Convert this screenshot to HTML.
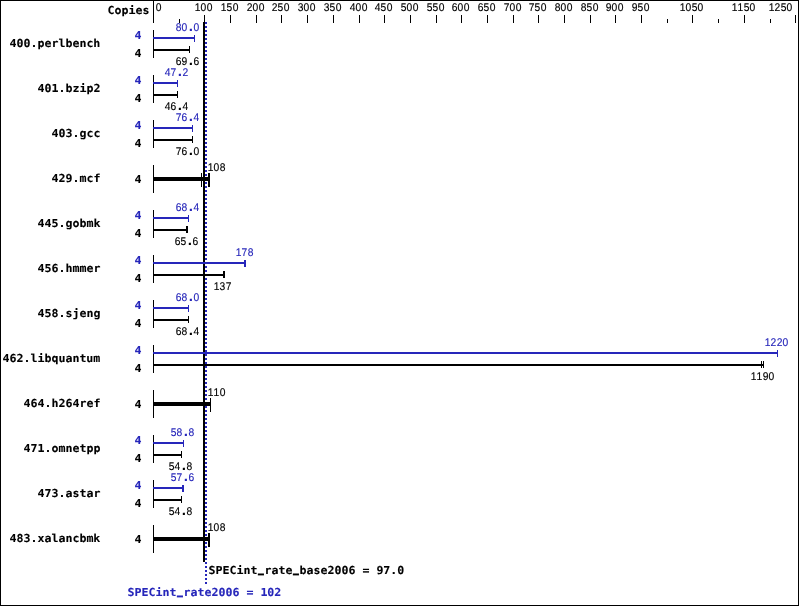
<!DOCTYPE html>
<html><head><meta charset="utf-8"><title>SPECint_rate2006</title>
<style>
html,body{margin:0;padding:0;background:#fff;}
svg{display:block;}
text.s{font-family:"Liberation Sans",sans-serif;font-size:11.2px;text-anchor:middle;stroke-width:0.15px;}
tspan.u{font-size:8px;stroke-width:1.3px;}
tspan.d{font-weight:bold;font-size:15px;}
text.b{font-family:"DejaVu Sans Mono","Liberation Mono",monospace;font-weight:bold;font-size:11.627px;stroke-width:0.1px;}
</style></head><body>
<svg width="799" height="606" viewBox="0 0 799 606" shape-rendering="crispEdges" text-rendering="geometricPrecision">
<rect x="0" y="0" width="799" height="606" fill="#fff"/>
<rect x="0" y="0" width="799" height="1" fill="#000"/>
<rect x="0" y="605" width="799" height="1" fill="#000"/>
<rect x="0" y="0" width="1" height="606" fill="#000"/>
<rect x="798" y="0" width="1" height="606" fill="#000"/>
<rect x="153" y="0" width="1" height="23" fill="#000"/>
<text class="b" transform="translate(107.50,14) scale(1,0.945)" fill="#000" stroke="#000">Copies</text>
<text class="s" transform="translate(156.00,11) scale(0.92,1)" x="2.72" fill="#000" stroke="#000">0</text>
<rect x="179" y="19" width="1" height="4" fill="#000"/>
<rect x="204" y="15" width="1" height="8" fill="#000"/>
<text class="s" transform="translate(195.00,11) scale(0.92,1)" x="2.72 9.24 15.76" fill="#000" stroke="#000">100</text>
<rect x="230" y="15" width="1" height="8" fill="#000"/>
<text class="s" transform="translate(221.00,11) scale(0.92,1)" x="2.72 9.24 15.76" fill="#000" stroke="#000">150</text>
<rect x="256" y="15" width="1" height="8" fill="#000"/>
<text class="s" transform="translate(247.00,11) scale(0.92,1)" x="2.72 9.24 15.76" fill="#000" stroke="#000">200</text>
<rect x="281" y="15" width="1" height="8" fill="#000"/>
<text class="s" transform="translate(272.00,11) scale(0.92,1)" x="2.72 9.24 15.76" fill="#000" stroke="#000">250</text>
<rect x="307" y="15" width="1" height="8" fill="#000"/>
<text class="s" transform="translate(298.00,11) scale(0.92,1)" x="2.72 9.24 15.76" fill="#000" stroke="#000">300</text>
<rect x="333" y="15" width="1" height="8" fill="#000"/>
<text class="s" transform="translate(324.00,11) scale(0.92,1)" x="2.72 9.24 15.76" fill="#000" stroke="#000">350</text>
<rect x="359" y="15" width="1" height="8" fill="#000"/>
<text class="s" transform="translate(350.00,11) scale(0.92,1)" x="2.72 9.24 15.76" fill="#000" stroke="#000">400</text>
<rect x="384" y="15" width="1" height="8" fill="#000"/>
<text class="s" transform="translate(375.00,11) scale(0.92,1)" x="2.72 9.24 15.76" fill="#000" stroke="#000">450</text>
<rect x="410" y="15" width="1" height="8" fill="#000"/>
<text class="s" transform="translate(401.00,11) scale(0.92,1)" x="2.72 9.24 15.76" fill="#000" stroke="#000">500</text>
<rect x="436" y="15" width="1" height="8" fill="#000"/>
<text class="s" transform="translate(427.00,11) scale(0.92,1)" x="2.72 9.24 15.76" fill="#000" stroke="#000">550</text>
<rect x="461" y="15" width="1" height="8" fill="#000"/>
<text class="s" transform="translate(452.00,11) scale(0.92,1)" x="2.72 9.24 15.76" fill="#000" stroke="#000">600</text>
<rect x="487" y="15" width="1" height="8" fill="#000"/>
<text class="s" transform="translate(478.00,11) scale(0.92,1)" x="2.72 9.24 15.76" fill="#000" stroke="#000">650</text>
<rect x="513" y="15" width="1" height="8" fill="#000"/>
<text class="s" transform="translate(504.00,11) scale(0.92,1)" x="2.72 9.24 15.76" fill="#000" stroke="#000">700</text>
<rect x="538" y="15" width="1" height="8" fill="#000"/>
<text class="s" transform="translate(529.00,11) scale(0.92,1)" x="2.72 9.24 15.76" fill="#000" stroke="#000">750</text>
<rect x="564" y="15" width="1" height="8" fill="#000"/>
<text class="s" transform="translate(555.00,11) scale(0.92,1)" x="2.72 9.24 15.76" fill="#000" stroke="#000">800</text>
<rect x="590" y="15" width="1" height="8" fill="#000"/>
<text class="s" transform="translate(581.00,11) scale(0.92,1)" x="2.72 9.24 15.76" fill="#000" stroke="#000">850</text>
<rect x="615" y="15" width="1" height="8" fill="#000"/>
<text class="s" transform="translate(606.00,11) scale(0.92,1)" x="2.72 9.24 15.76" fill="#000" stroke="#000">900</text>
<rect x="641" y="15" width="1" height="8" fill="#000"/>
<text class="s" transform="translate(632.00,11) scale(0.92,1)" x="2.72 9.24 15.76" fill="#000" stroke="#000">950</text>
<rect x="667" y="19" width="1" height="4" fill="#000"/>
<rect x="718" y="19" width="1" height="4" fill="#000"/>
<rect x="770" y="19" width="1" height="4" fill="#000"/>
<rect x="692" y="15" width="1" height="8" fill="#000"/>
<text class="s" transform="translate(680.00,11) scale(0.92,1)" x="2.72 9.24 15.76 22.28" fill="#000" stroke="#000">1050</text>
<rect x="744" y="15" width="1" height="8" fill="#000"/>
<text class="s" transform="translate(732.00,11) scale(0.92,1)" x="2.72 9.24 15.76 22.28" fill="#000" stroke="#000">1150</text>
<rect x="795" y="15" width="1" height="8" fill="#000"/>
<text class="s" transform="translate(769.00,11) scale(0.92,1)" x="2.72 9.24 15.76 22.28" fill="#000" stroke="#000">1250</text>
<rect x="203" y="22" width="2" height="540" fill="#000"/>
<g fill="#2626ba"><rect x="205" y="22" width="2" height="2"/><rect x="205" y="26" width="2" height="2"/><rect x="205" y="30" width="2" height="2"/><rect x="205" y="34" width="2" height="2"/><rect x="205" y="38" width="2" height="2"/><rect x="205" y="42" width="2" height="2"/><rect x="205" y="46" width="2" height="2"/><rect x="205" y="50" width="2" height="2"/><rect x="205" y="54" width="2" height="2"/><rect x="205" y="58" width="2" height="2"/><rect x="205" y="62" width="2" height="2"/><rect x="205" y="66" width="2" height="2"/><rect x="205" y="70" width="2" height="2"/><rect x="205" y="74" width="2" height="2"/><rect x="205" y="78" width="2" height="2"/><rect x="205" y="82" width="2" height="2"/><rect x="205" y="86" width="2" height="2"/><rect x="205" y="90" width="2" height="2"/><rect x="205" y="94" width="2" height="2"/><rect x="205" y="98" width="2" height="2"/><rect x="205" y="102" width="2" height="2"/><rect x="205" y="106" width="2" height="2"/><rect x="205" y="110" width="2" height="2"/><rect x="205" y="114" width="2" height="2"/><rect x="205" y="118" width="2" height="2"/><rect x="205" y="122" width="2" height="2"/><rect x="205" y="126" width="2" height="2"/><rect x="205" y="130" width="2" height="2"/><rect x="205" y="134" width="2" height="2"/><rect x="205" y="138" width="2" height="2"/><rect x="205" y="142" width="2" height="2"/><rect x="205" y="146" width="2" height="2"/><rect x="205" y="150" width="2" height="2"/><rect x="205" y="154" width="2" height="2"/><rect x="205" y="158" width="2" height="2"/><rect x="205" y="162" width="2" height="2"/><rect x="205" y="166" width="2" height="2"/><rect x="205" y="170" width="2" height="2"/><rect x="205" y="174" width="2" height="2"/><rect x="205" y="178" width="2" height="2"/><rect x="205" y="182" width="2" height="2"/><rect x="205" y="186" width="2" height="2"/><rect x="205" y="190" width="2" height="2"/><rect x="205" y="194" width="2" height="2"/><rect x="205" y="198" width="2" height="2"/><rect x="205" y="202" width="2" height="2"/><rect x="205" y="206" width="2" height="2"/><rect x="205" y="210" width="2" height="2"/><rect x="205" y="214" width="2" height="2"/><rect x="205" y="218" width="2" height="2"/><rect x="205" y="222" width="2" height="2"/><rect x="205" y="226" width="2" height="2"/><rect x="205" y="230" width="2" height="2"/><rect x="205" y="234" width="2" height="2"/><rect x="205" y="238" width="2" height="2"/><rect x="205" y="242" width="2" height="2"/><rect x="205" y="246" width="2" height="2"/><rect x="205" y="250" width="2" height="2"/><rect x="205" y="254" width="2" height="2"/><rect x="205" y="258" width="2" height="2"/><rect x="205" y="262" width="2" height="2"/><rect x="205" y="266" width="2" height="2"/><rect x="205" y="270" width="2" height="2"/><rect x="205" y="274" width="2" height="2"/><rect x="205" y="278" width="2" height="2"/><rect x="205" y="282" width="2" height="2"/><rect x="205" y="286" width="2" height="2"/><rect x="205" y="290" width="2" height="2"/><rect x="205" y="294" width="2" height="2"/><rect x="205" y="298" width="2" height="2"/><rect x="205" y="302" width="2" height="2"/><rect x="205" y="306" width="2" height="2"/><rect x="205" y="310" width="2" height="2"/><rect x="205" y="314" width="2" height="2"/><rect x="205" y="318" width="2" height="2"/><rect x="205" y="322" width="2" height="2"/><rect x="205" y="326" width="2" height="2"/><rect x="205" y="330" width="2" height="2"/><rect x="205" y="334" width="2" height="2"/><rect x="205" y="338" width="2" height="2"/><rect x="205" y="342" width="2" height="2"/><rect x="205" y="346" width="2" height="2"/><rect x="205" y="350" width="2" height="2"/><rect x="205" y="354" width="2" height="2"/><rect x="205" y="358" width="2" height="2"/><rect x="205" y="362" width="2" height="2"/><rect x="205" y="366" width="2" height="2"/><rect x="205" y="370" width="2" height="2"/><rect x="205" y="374" width="2" height="2"/><rect x="205" y="378" width="2" height="2"/><rect x="205" y="382" width="2" height="2"/><rect x="205" y="386" width="2" height="2"/><rect x="205" y="390" width="2" height="2"/><rect x="205" y="394" width="2" height="2"/><rect x="205" y="398" width="2" height="2"/><rect x="205" y="402" width="2" height="2"/><rect x="205" y="406" width="2" height="2"/><rect x="205" y="410" width="2" height="2"/><rect x="205" y="414" width="2" height="2"/><rect x="205" y="418" width="2" height="2"/><rect x="205" y="422" width="2" height="2"/><rect x="205" y="426" width="2" height="2"/><rect x="205" y="430" width="2" height="2"/><rect x="205" y="434" width="2" height="2"/><rect x="205" y="438" width="2" height="2"/><rect x="205" y="442" width="2" height="2"/><rect x="205" y="446" width="2" height="2"/><rect x="205" y="450" width="2" height="2"/><rect x="205" y="454" width="2" height="2"/><rect x="205" y="458" width="2" height="2"/><rect x="205" y="462" width="2" height="2"/><rect x="205" y="466" width="2" height="2"/><rect x="205" y="470" width="2" height="2"/><rect x="205" y="474" width="2" height="2"/><rect x="205" y="478" width="2" height="2"/><rect x="205" y="482" width="2" height="2"/><rect x="205" y="486" width="2" height="2"/><rect x="205" y="490" width="2" height="2"/><rect x="205" y="494" width="2" height="2"/><rect x="205" y="498" width="2" height="2"/><rect x="205" y="502" width="2" height="2"/><rect x="205" y="506" width="2" height="2"/><rect x="205" y="510" width="2" height="2"/><rect x="205" y="514" width="2" height="2"/><rect x="205" y="518" width="2" height="2"/><rect x="205" y="522" width="2" height="2"/><rect x="205" y="526" width="2" height="2"/><rect x="205" y="530" width="2" height="2"/><rect x="205" y="534" width="2" height="2"/><rect x="205" y="538" width="2" height="2"/><rect x="205" y="542" width="2" height="2"/><rect x="205" y="546" width="2" height="2"/><rect x="205" y="550" width="2" height="2"/><rect x="205" y="554" width="2" height="2"/><rect x="205" y="558" width="2" height="2"/><rect x="205" y="562" width="2" height="2"/><rect x="205" y="566" width="2" height="2"/><rect x="205" y="570" width="2" height="2"/><rect x="205" y="574" width="2" height="2"/><rect x="205" y="578" width="2" height="2"/><rect x="205" y="582" width="2" height="2"/></g>
<rect x="153" y="30" width="1" height="28" fill="#000"/>
<text class="b" transform="translate(9.50,47) scale(1,0.945)" fill="#000" stroke="#000">400.perlbench</text>
<text class="b" transform="translate(134.50,39) scale(1,0.945)" fill="#2626ba" stroke="#2626ba">4</text>
<rect x="153" y="37" width="42" height="2" fill="#2626ba"/>
<rect x="194" y="35" width="1" height="7" fill="#2626ba"/>
<text class="s" transform="translate(176.00,31) scale(0.92,1)" x="2.72 9.24 16.30 22.28" fill="#2626ba" stroke="#2626ba">80<tspan class="d">.</tspan>0</text>
<text class="b" transform="translate(134.50,57) scale(1,0.945)" fill="#000" stroke="#000">4</text>
<rect x="153" y="49" width="37" height="2" fill="#000"/>
<rect x="189" y="46" width="1" height="7" fill="#000"/>
<text class="s" transform="translate(176.00,65) scale(0.92,1)" x="2.72 9.24 16.30 22.28" fill="#000" stroke="#000">69<tspan class="d">.</tspan>6</text>
<rect x="153" y="75" width="1" height="28" fill="#000"/>
<text class="b" transform="translate(37.50,92) scale(1,0.945)" fill="#000" stroke="#000">401.bzip2</text>
<text class="b" transform="translate(134.50,84) scale(1,0.945)" fill="#2626ba" stroke="#2626ba">4</text>
<rect x="153" y="82" width="25" height="2" fill="#2626ba"/>
<rect x="177" y="80" width="1" height="7" fill="#2626ba"/>
<text class="s" transform="translate(165.00,76) scale(0.92,1)" x="2.72 9.24 16.30 22.28" fill="#2626ba" stroke="#2626ba">47<tspan class="d">.</tspan>2</text>
<text class="b" transform="translate(134.50,102) scale(1,0.945)" fill="#000" stroke="#000">4</text>
<rect x="153" y="94" width="25" height="2" fill="#000"/>
<rect x="177" y="91" width="1" height="7" fill="#000"/>
<text class="s" transform="translate(165.00,110) scale(0.92,1)" x="2.72 9.24 16.30 22.28" fill="#000" stroke="#000">46<tspan class="d">.</tspan>4</text>
<rect x="153" y="120" width="1" height="28" fill="#000"/>
<text class="b" transform="translate(51.50,137) scale(1,0.945)" fill="#000" stroke="#000">403.gcc</text>
<text class="b" transform="translate(134.50,129) scale(1,0.945)" fill="#2626ba" stroke="#2626ba">4</text>
<rect x="153" y="127" width="40" height="2" fill="#2626ba"/>
<rect x="192" y="125" width="1" height="7" fill="#2626ba"/>
<text class="s" transform="translate(176.00,121) scale(0.92,1)" x="2.72 9.24 16.30 22.28" fill="#2626ba" stroke="#2626ba">76<tspan class="d">.</tspan>4</text>
<text class="b" transform="translate(134.50,147) scale(1,0.945)" fill="#000" stroke="#000">4</text>
<rect x="153" y="139" width="40" height="2" fill="#000"/>
<rect x="192" y="136" width="1" height="7" fill="#000"/>
<text class="s" transform="translate(176.00,155) scale(0.92,1)" x="2.72 9.24 16.30 22.28" fill="#000" stroke="#000">76<tspan class="d">.</tspan>0</text>
<rect x="153" y="165" width="1" height="28" fill="#000"/>
<text class="b" transform="translate(51.50,182) scale(1,0.945)" fill="#000" stroke="#000">429.mcf</text>
<text class="b" transform="translate(134.50,183) scale(1,0.945)" fill="#000" stroke="#000">4</text>
<rect x="153" y="177" width="57" height="4" fill="#000"/>
<rect x="201" y="173" width="1" height="14" fill="#000"/>
<rect x="208" y="173" width="2" height="14" fill="#000"/>
<text class="s" transform="translate(208.00,171) scale(0.92,1)" x="2.72 9.24 15.76" fill="#000" stroke="#000">108</text>
<rect x="153" y="210" width="1" height="28" fill="#000"/>
<text class="b" transform="translate(37.50,227) scale(1,0.945)" fill="#000" stroke="#000">445.gobmk</text>
<text class="b" transform="translate(134.50,219) scale(1,0.945)" fill="#2626ba" stroke="#2626ba">4</text>
<rect x="153" y="217" width="36" height="2" fill="#2626ba"/>
<rect x="188" y="215" width="1" height="7" fill="#2626ba"/>
<text class="s" transform="translate(176.00,211) scale(0.92,1)" x="2.72 9.24 16.30 22.28" fill="#2626ba" stroke="#2626ba">68<tspan class="d">.</tspan>4</text>
<text class="b" transform="translate(134.50,237) scale(1,0.945)" fill="#000" stroke="#000">4</text>
<rect x="153" y="229" width="35" height="2" fill="#000"/>
<rect x="186" y="226" width="2" height="7" fill="#000"/>
<text class="s" transform="translate(175.00,245) scale(0.92,1)" x="2.72 9.24 16.30 22.28" fill="#000" stroke="#000">65<tspan class="d">.</tspan>6</text>
<rect x="153" y="255" width="1" height="28" fill="#000"/>
<text class="b" transform="translate(37.50,272) scale(1,0.945)" fill="#000" stroke="#000">456.hmmer</text>
<text class="b" transform="translate(134.50,264) scale(1,0.945)" fill="#2626ba" stroke="#2626ba">4</text>
<rect x="153" y="262" width="93" height="2" fill="#2626ba"/>
<rect x="244" y="260" width="2" height="7" fill="#2626ba"/>
<text class="s" transform="translate(236.00,256) scale(0.92,1)" x="2.72 9.24 15.76" fill="#2626ba" stroke="#2626ba">178</text>
<text class="b" transform="translate(134.50,282) scale(1,0.945)" fill="#000" stroke="#000">4</text>
<rect x="153" y="274" width="72" height="2" fill="#000"/>
<rect x="223" y="271" width="2" height="7" fill="#000"/>
<text class="s" transform="translate(214.00,290) scale(0.92,1)" x="2.72 9.24 15.76" fill="#000" stroke="#000">137</text>
<rect x="153" y="300" width="1" height="28" fill="#000"/>
<text class="b" transform="translate(37.50,317) scale(1,0.945)" fill="#000" stroke="#000">458.sjeng</text>
<text class="b" transform="translate(134.50,309) scale(1,0.945)" fill="#2626ba" stroke="#2626ba">4</text>
<rect x="153" y="307" width="36" height="2" fill="#2626ba"/>
<rect x="188" y="305" width="1" height="7" fill="#2626ba"/>
<text class="s" transform="translate(176.00,301) scale(0.92,1)" x="2.72 9.24 16.30 22.28" fill="#2626ba" stroke="#2626ba">68<tspan class="d">.</tspan>0</text>
<text class="b" transform="translate(134.50,327) scale(1,0.945)" fill="#000" stroke="#000">4</text>
<rect x="153" y="319" width="36" height="2" fill="#000"/>
<rect x="188" y="316" width="1" height="7" fill="#000"/>
<text class="s" transform="translate(176.00,335) scale(0.92,1)" x="2.72 9.24 16.30 22.28" fill="#000" stroke="#000">68<tspan class="d">.</tspan>4</text>
<rect x="153" y="345" width="1" height="28" fill="#000"/>
<text class="b" transform="translate(2.50,362) scale(1,0.945)" fill="#000" stroke="#000">462.libquantum</text>
<text class="b" transform="translate(134.50,354) scale(1,0.945)" fill="#2626ba" stroke="#2626ba">4</text>
<rect x="153" y="352" width="625" height="2" fill="#2626ba"/>
<rect x="777" y="350" width="1" height="7" fill="#2626ba"/>
<text class="s" transform="translate(765.00,346) scale(0.92,1)" x="2.72 9.24 15.76 22.28" fill="#2626ba" stroke="#2626ba">1220</text>
<text class="b" transform="translate(134.50,372) scale(1,0.945)" fill="#000" stroke="#000">4</text>
<rect x="153" y="364" width="611" height="2" fill="#000"/>
<rect x="761" y="361" width="1" height="7" fill="#000"/>
<rect x="763" y="361" width="1" height="7" fill="#000"/>
<text class="s" transform="translate(751.00,380) scale(0.92,1)" x="2.72 9.24 15.76 22.28" fill="#000" stroke="#000">1190</text>
<rect x="153" y="390" width="1" height="28" fill="#000"/>
<text class="b" transform="translate(23.50,407) scale(1,0.945)" fill="#000" stroke="#000">464.h264ref</text>
<text class="b" transform="translate(134.50,408) scale(1,0.945)" fill="#000" stroke="#000">4</text>
<rect x="153" y="402" width="58" height="4" fill="#000"/>
<rect x="210" y="398" width="1" height="14" fill="#000"/>
<text class="s" transform="translate(208.00,396) scale(0.92,1)" x="2.72 9.24 15.76" fill="#000" stroke="#000">110</text>
<rect x="153" y="435" width="1" height="28" fill="#000"/>
<text class="b" transform="translate(23.50,452) scale(1,0.945)" fill="#000" stroke="#000">471.omnetpp</text>
<text class="b" transform="translate(134.50,444) scale(1,0.945)" fill="#2626ba" stroke="#2626ba">4</text>
<rect x="153" y="442" width="31" height="2" fill="#2626ba"/>
<rect x="183" y="440" width="1" height="7" fill="#2626ba"/>
<text class="s" transform="translate(171.00,436) scale(0.92,1)" x="2.72 9.24 16.30 22.28" fill="#2626ba" stroke="#2626ba">58<tspan class="d">.</tspan>8</text>
<text class="b" transform="translate(134.50,462) scale(1,0.945)" fill="#000" stroke="#000">4</text>
<rect x="153" y="454" width="29" height="2" fill="#000"/>
<rect x="181" y="451" width="1" height="7" fill="#000"/>
<text class="s" transform="translate(169.00,470) scale(0.92,1)" x="2.72 9.24 16.30 22.28" fill="#000" stroke="#000">54<tspan class="d">.</tspan>8</text>
<rect x="153" y="480" width="1" height="28" fill="#000"/>
<text class="b" transform="translate(37.50,497) scale(1,0.945)" fill="#000" stroke="#000">473.astar</text>
<text class="b" transform="translate(134.50,489) scale(1,0.945)" fill="#2626ba" stroke="#2626ba">4</text>
<rect x="153" y="487" width="31" height="2" fill="#2626ba"/>
<rect x="182" y="485" width="2" height="7" fill="#2626ba"/>
<text class="s" transform="translate(171.00,481) scale(0.92,1)" x="2.72 9.24 16.30 22.28" fill="#2626ba" stroke="#2626ba">57<tspan class="d">.</tspan>6</text>
<text class="b" transform="translate(134.50,507) scale(1,0.945)" fill="#000" stroke="#000">4</text>
<rect x="153" y="499" width="29" height="2" fill="#000"/>
<rect x="181" y="496" width="1" height="7" fill="#000"/>
<text class="s" transform="translate(169.00,515) scale(0.92,1)" x="2.72 9.24 16.30 22.28" fill="#000" stroke="#000">54<tspan class="d">.</tspan>8</text>
<rect x="153" y="525" width="1" height="28" fill="#000"/>
<text class="b" transform="translate(9.50,542) scale(1,0.945)" fill="#000" stroke="#000">483.xalancbmk</text>
<text class="b" transform="translate(134.50,543) scale(1,0.945)" fill="#000" stroke="#000">4</text>
<rect x="153" y="537" width="57" height="4" fill="#000"/>
<rect x="208" y="533" width="2" height="14" fill="#000"/>
<text class="s" transform="translate(208.00,531) scale(0.92,1)" x="2.72 9.24 15.76" fill="#000" stroke="#000">108</text>
<text class="b" transform="translate(208.50,574) scale(1,0.945)" fill="#000"><tspan x="0" stroke="#000">SPECint</tspan><tspan class="u" x="50.10" dy="-1.3" stroke="#000">_</tspan><tspan x="56" dy="1.3" stroke="#000">rate</tspan><tspan class="u" x="85.10" dy="-1.3" stroke="#000">_</tspan><tspan x="91" dy="1.3" stroke="#000">base2006 = 97.0</tspan></text>
<text class="b" transform="translate(127.50,596) scale(1,0.945)" fill="#2626ba"><tspan x="0" stroke="#2626ba">SPECint</tspan><tspan class="u" x="50.10" dy="-1.3" stroke="#2626ba">_</tspan><tspan x="56" dy="1.3" stroke="#2626ba">rate2006 = 102</tspan></text>
</svg>
</body></html>
